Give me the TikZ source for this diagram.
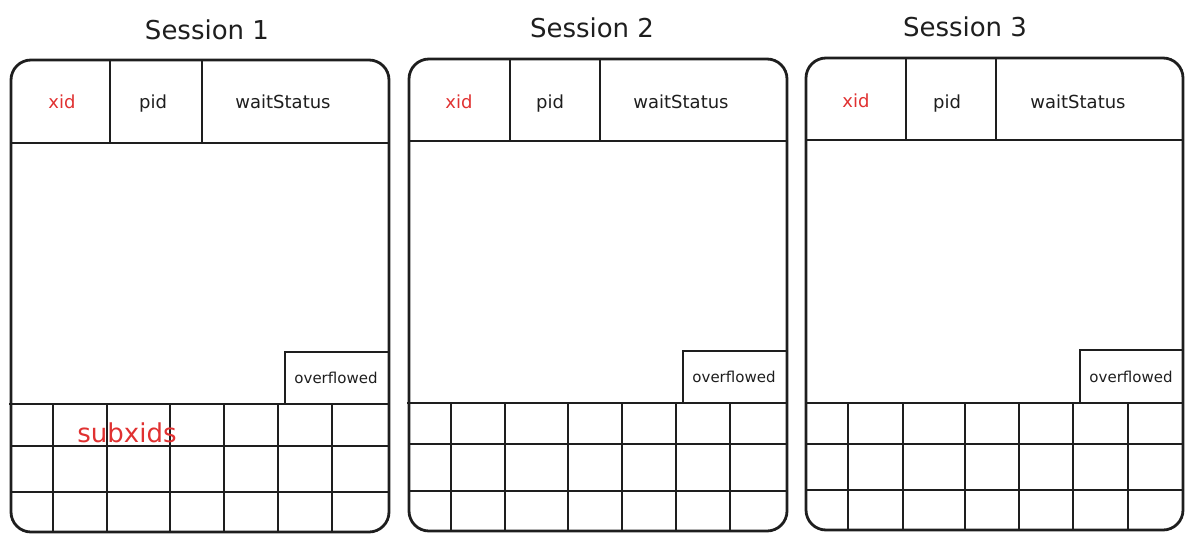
\documentclass[tikz,border=0pt]{standalone}
\usepackage{fontspec}
\setmainfont{DejaVu Sans}
\usetikzlibrary{calc}
\definecolor{ink}{HTML}{1E1E1E}
\definecolor{xred}{HTML}{E03131}

\begin{document}
\begin{tikzpicture}[x=1pt, y=-1pt,
    box line/.style={draw=ink, line width=2.8pt, rounded corners=20pt},
    important line/.style={draw=ink, line width=2.6pt},
    cell line/.style={draw=ink, line width=2pt},
    title/.style={color=ink, font=\fontsize{26}{31}\selectfont},
    field/.style={color=ink, font=\fontsize{18}{22}\selectfont},
    small field/.style={color=ink, font=\fontsize{15}{18}\selectfont},
    red field/.style={color=xred, font=\fontsize{18}{22}\selectfont},
    ]
\useasboundingbox (0,0) rectangle (1196,541);

%% session 1
\coordinate (s1nw) at (11,60);  \coordinate (s1se) at (389,532);
\draw[box line] (s1nw) rectangle (s1se);
\draw[important line] (11,143) -- (389,143);
\draw[important line] (110,60) -- (110,143) (202,60) -- (202,143);
\draw[important line] (285,404) -- (285,352) -- (389,352);
\draw[important line] (9,404) -- (389,404);
\draw[cell line] (11,446) -- (389,446) (11,492) -- (389,492);
\draw[cell line] (53,404) -- (53,532) (107,404) -- (107,532) (170,404) -- (170,532)
    (224,404) -- (224,532) (278,404) -- (278,532) (332,404) -- (332,532);

\node[title] (title1) at (207,30) {Session 1};
\node[red field] (xid1) at (62,102) {xid};
\node[field] (pid1) at (153,104) {pid};
\node[field] (wait1) at (283,102) {waitStatus};
\node[small field] (over1) at (336,378) {overflowed};
\node[red field, font=\fontsize{26}{31}\selectfont] (subxids) at (127,433) {subxids};

%% session 2
\coordinate (s2nw) at (409,59);  \coordinate (s2se) at (787,531);
\draw[box line] (s2nw) rectangle (s2se);
\draw[important line] (409,141) -- (787,141);
\draw[important line] (510,59) -- (510,141) (600,59) -- (600,141);
\draw[important line] (683,403) -- (683,351) -- (787,351);
\draw[important line] (407,403) -- (787,403);
\draw[cell line] (409,444) -- (787,444) (409,491) -- (787,491);
\draw[cell line] (451,403) -- (451,531) (505,403) -- (505,531) (568,403) -- (568,531)
    (622,403) -- (622,531) (676,403) -- (676,531) (730,403) -- (730,531);

\node[title] (title2) at (592,28) {Session 2};
\node[red field] (xid2) at (459,102) {xid};
\node[field] (pid2) at (550,104) {pid};
\node[field] (wait2) at (681,102) {waitStatus};
\node[small field] (over2) at (734,377) {overflowed};

%% session 3
\coordinate (s3nw) at (806,58);  \coordinate (s3se) at (1183,530);
\draw[box line] (s3nw) rectangle (s3se);
\draw[important line] (806,140) -- (1183,140);
\draw[important line] (906,58) -- (906,140) (996,58) -- (996,140);
\draw[important line] (1080,402) -- (1080,350) -- (1183,350);
\draw[important line] (806,403) -- (1183,403);
\draw[cell line] (806,444) -- (1183,444) (806,490) -- (1183,490);
\draw[cell line] (848,403) -- (848,530) (903,403) -- (903,530) (965,403) -- (965,530)
    (1019,403) -- (1019,530) (1073,403) -- (1073,530) (1128,403) -- (1128,530);

\node[title] (title3) at (965,27) {Session 3};
\node[red field] (xid3) at (856,101) {xid};
\node[field] (pid3) at (947,104) {pid};
\node[field] (wait3) at (1078,102) {waitStatus};
\node[small field] (over3) at (1131,377) {overflowed};

\end{tikzpicture}
\end{document}
